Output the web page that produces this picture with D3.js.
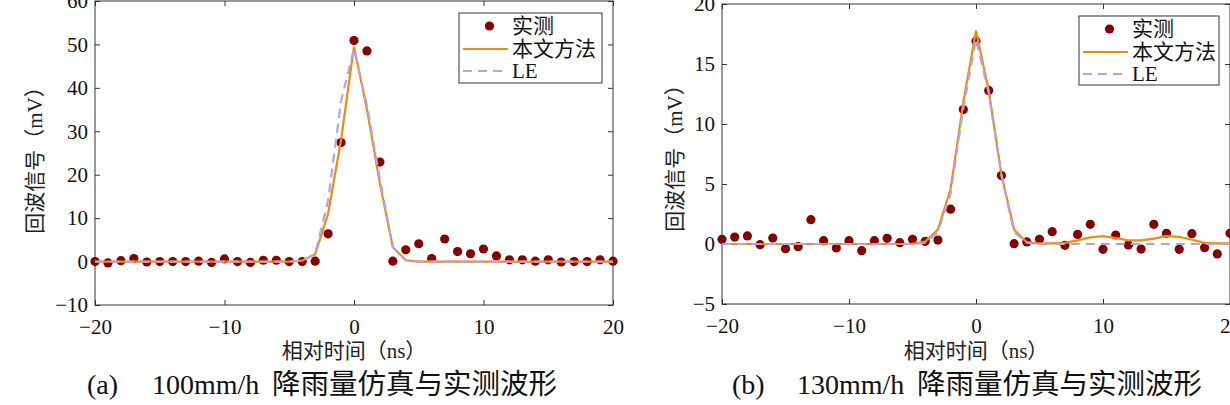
<!DOCTYPE html>
<html><head><meta charset="utf-8">
<script src="https://cdn.jsdelivr.net/npm/d3@7"></script>
<style>html,body{margin:0;padding:0;background:#fff;overflow:hidden}</style>
</head><body>
<svg id="c" width="1230" height="405"></svg>
<script>
// ---------- data ----------
const timeNs = [-20,-19,-18,-17,-16,-15,-14,-13,-12,-11,-10,-9,-8,-7,-6,-5,-4,-3,-2,-1,0,1,2,3,4,5,6,7,8,9,10,11,12,13,14,15,16,17,18,19,20];

const measuredA = [0,-0.3,0.2,0.7,-0.1,0,0,0,0.1,-0.2,0.6,0,-0.2,0.3,0.3,0,0,0.1,6.4,27.4,50.9,48.5,22.9,0.1,2.7,4.1,0.7,5.2,2.3,1.8,2.9,1.3,0.4,0.4,0.1,0.4,-0.1,0,0,0.4,0.1];
const methodA   = [0,0,0,0,0,0,0,0,0,0,0,0,0,0,0,0,0.2,1.7,11,28,49.5,35,18,3.3,0.3,0,0,0,0,0,0,0,0,0,0,0,0,0,0,0,0];
const leA       = [0,0,0,0,0,0,0,0,0,0,0,0,0,0,0,0,0.2,1.8,14,37,49,36,19,3.3,0.3,0,0,0,0,0,0,0,0,0,0,0,0,0,0,0,0];

const measuredB = [0.39,0.58,0.67,-0.06,0.5,-0.39,-0.22,2.03,0.28,-0.33,0.28,-0.56,0.28,0.47,0.11,0.39,0.22,0.33,2.9,11.2,16.9,12.8,5.7,0.03,0.17,0.39,1.03,-0.11,0.8,1.64,-0.44,0.75,-0.08,-0.42,1.64,0.89,-0.44,0.86,-0.31,-0.83,0.89];
const methodB   = [0,0,0,0,0,0,0,0,0,0,0,0,0,0,0,0.02,0.2,1.2,4.6,11.8,17.8,12.8,5.8,1.2,0.15,0.05,0.05,0.1,0.3,0.55,0.65,0.5,0.3,0.3,0.45,0.65,0.6,0.35,0.1,0.05,0.05];
const leB       = [0,0,0,0,0,0,0,0,0,0,0,0,0,0,0,0,0.1,1.0,4.2,11.3,17.1,12.6,5.7,1.0,0.1,0,0,0,0,0,0,0,0,0,0,0,0,0,0,0,0];

const xTicks  = [-20,-10,0,10,20];
const yTicksA = [-10,0,10,20,30,40,50,60];
const yTicksB = [-5,0,5,10,15,20];

const seriesNames = ["实测","本文方法","LE"];
const yTitle = "回波信号（mV）";
const xTitle = "相对时间（ns）";
const captionTags = ["(a)","(b)"];
const captionRates = ["100mm/h","130mm/h"];
const captionTexts = ["降雨量仿真与实测波形","降雨量仿真与实测波形"];

// ---------- drawing ----------
const svg = d3.select("#c");
const FONT = "'Liberation Serif','Times New Roman','Noto Sans CJK SC',serif";
const C_DOT = "#850000", C_ORANGE = "#EE8C12", C_LE = "#B9A0E4", C_AX = "#333";

const panels = [
  {left:95, right:613, top:1, bottom:305, ydom:[-10,60], yticks:yTicksA,
   meas:measuredA, meth:methodA, le:leA, ytx:35, yty:155,
   legend:{x0:459,x1:602,y0:13,y1:83}, capTagX:87, capRateX:152, capTextX:272},
  {left:722, right:1230, top:4, bottom:304, ydom:[-5,20], yticks:yTicksB,
   meas:measuredB, meth:methodB, le:leB, ytx:675, yty:153,
   legend:{x0:1079,x1:1219,y0:16,y1:85}, capTagX:732, capRateX:797, capTextX:917}
];

panels.forEach((p,i)=>{
  const x = d3.scaleLinear().domain([-20,20]).range([p.left,p.right]);
  const y = d3.scaleLinear().domain(p.ydom).range([p.bottom,p.top]);
  const g = svg.append("g");

  g.append("rect").attr("x",p.left).attr("y",p.top)
    .attr("width",p.right-p.left).attr("height",p.bottom-p.top)
    .attr("fill","none").attr("stroke",C_AX).attr("stroke-width",1);

  const styleAxis = sel => {
    sel.select(".domain").remove();
    sel.selectAll(".tick line").attr("stroke",C_AX);
    sel.selectAll("text").attr("font-family",FONT).attr("font-size",21).attr("fill","#111");
  };
  g.append("g").attr("transform",`translate(0,${p.bottom})`)
    .call(d3.axisBottom(x).tickValues(xTicks).tickSizeInner(-5).tickSizeOuter(0).tickPadding(14))
    .call(styleAxis);
  g.append("g").attr("transform",`translate(0,${p.top})`)
    .call(d3.axisTop(x).tickValues(xTicks).tickSizeInner(-5).tickSizeOuter(0).tickFormat(""))
    .call(styleAxis);
  g.append("g").attr("transform",`translate(${p.left},0)`)
    .call(d3.axisLeft(y).tickValues(p.yticks).tickSizeInner(-5).tickSizeOuter(0).tickPadding(7))
    .call(styleAxis);
  g.append("g").attr("transform",`translate(${p.right},0)`)
    .call(d3.axisRight(y).tickValues(p.yticks).tickSizeInner(-5).tickSizeOuter(0).tickFormat(""))
    .call(styleAxis);

  g.append("g").selectAll("circle").data(timeNs.map((t,k)=>[t,p.meas[k]])).join("circle")
    .attr("cx",d=>x(d[0])).attr("cy",d=>y(d[1])).attr("r",4.6).attr("fill",C_DOT);

  const line = d3.line().x(d=>x(d[0])).y(d=>y(d[1]));
  g.append("path").datum(timeNs.map((t,k)=>[t,p.meth[k]])).attr("d",line)
    .attr("fill","none").attr("stroke",C_ORANGE).attr("stroke-width",2.2);
  g.append("path").datum(timeNs.map((t,k)=>[t,p.le[k]])).attr("d",line)
    .attr("fill","none").attr("stroke",C_LE).attr("stroke-width",2.2).attr("stroke-dasharray","9,6");

  g.append("text").attr("transform",`translate(${p.ytx},${p.yty}) rotate(-90)`)
    .attr("text-anchor","middle").attr("dominant-baseline","central")
    .attr("font-family",FONT).attr("font-size",21).attr("fill","#222").text(yTitle);
  g.append("text").attr("x",(p.left+p.right)/2).attr("y",358)
    .attr("text-anchor","middle")
    .attr("font-family",FONT).attr("font-size",21).attr("fill","#222").text(xTitle);

  const cap = g.append("text").attr("y",394).attr("font-family",FONT).attr("font-size",28).attr("fill","#111");
  cap.append("tspan").attr("x",p.capTagX).text(captionTags[i]);
  cap.append("tspan").attr("x",p.capRateX).text(captionRates[i]);
  cap.append("tspan").attr("x",p.capTextX).attr("font-size",28.5).text(captionTexts[i]);

  const L = p.legend;
  const lg = g.append("g");
  lg.append("rect").attr("x",L.x0).attr("y",L.y0).attr("width",L.x1-L.x0).attr("height",L.y1-L.y0)
    .attr("fill","#fff").attr("stroke",C_AX).attr("stroke-width",1);
  const rowY = [L.y0+13, L.y0+36, L.y0+58];
  const sx0 = L.x0+4, sx1 = L.x0+49, tx = L.x0+53;
  lg.append("circle").attr("cx",(sx0+sx1)/2+4).attr("cy",rowY[0]).attr("r",4.6).attr("fill",C_DOT);
  lg.append("line").attr("x1",sx0).attr("x2",sx1).attr("y1",rowY[1]).attr("y2",rowY[1])
    .attr("stroke",C_ORANGE).attr("stroke-width",2.2);
  lg.append("line").attr("x1",sx0).attr("x2",sx1).attr("y1",rowY[2]).attr("y2",rowY[2])
    .attr("stroke",C_LE).attr("stroke-width",2.2).attr("stroke-dasharray","9,6");
  seriesNames.forEach((n,k)=>{
    lg.append("text").attr("x",tx).attr("y",rowY[k]).attr("dominant-baseline","central")
      .attr("font-family",FONT).attr("font-size",21).attr("fill","#111").text(n);
  });
});
</script>
</body></html>
